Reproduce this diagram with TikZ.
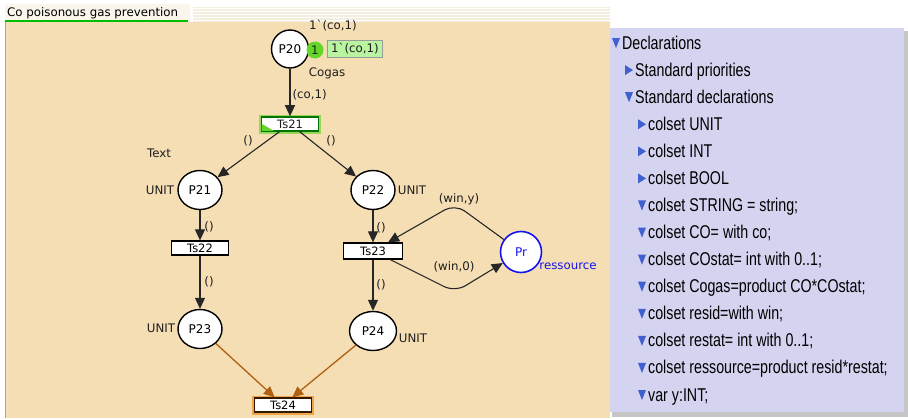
\documentclass[tikz,border=0pt]{standalone}
\usepackage{fontspec}
\setmainfont{DejaVu Sans}
\newfontfamily\declfont[FakeStretch=0.77]{Liberation Sans}
\usetikzlibrary{arrows.meta,shapes.geometric}

\definecolor{wheatbg}{RGB}{245,222,180}
\definecolor{tabbg}{RGB}{250,246,236}
\definecolor{stripebg}{RGB}{244,238,222}
\definecolor{panelbg}{RGB}{212,212,240}
\definecolor{declblue}{RGB}{64,96,208}
\definecolor{tokengreen}{RGB}{100,214,40}
\definecolor{markgreen}{RGB}{185,245,160}
\definecolor{glowgreen}{RGB}{150,215,90}
\definecolor{gloworange}{RGB}{242,165,70}
\definecolor{arcorange}{RGB}{176,96,16}
\definecolor{resblue}{RGB}{20,20,240}
\definecolor{inktext}{RGB}{30,30,30}

\tikzset{
  place/.style={ellipse, draw, line width=1.4pt, fill=white, minimum width=44pt,
    minimum height=39pt, inner sep=0pt, font=\fontsize{12}{13}\selectfont},
  trans/.style={rectangle, draw, line width=1.3pt, fill=white, minimum width=57pt,
    minimum height=14pt, inner sep=0pt, font=\fontsize{11.5}{12}\selectfont},
  lbl/.style={font=\fontsize{11.8}{13}\selectfont, text=inktext, inner sep=0pt},
  arc/.style={->, line width=1.1pt, draw=black!85},
  decl/.style={font=\declfont\fontsize{18.5}{20}\selectfont, anchor=base west,
    inner sep=0pt, text=black}
}

\begin{document}
\begin{tikzpicture}[x=1pt, y=-1pt, >={Triangle[length=11pt,width=10pt]}]

\useasboundingbox (0,0) rectangle (908,418);
\fill[white] (0,0) rectangle (908,418);
\fill[wheatbg] (5,22) rectangle (610,418);
\draw[gray!70] (5.5,22) -- (5.5,418);
\fill[tabbg] (5,4) rectangle (190,22);
\fill[stripebg] (193,7) rectangle (610,22);
\foreach \s in {8,11,...,21} {\draw[white, line width=1pt] (193,\s) -- (610,\s);}
\node[lbl, anchor=west, text=black] (tab) at (7,13) {Co poisonous gas prevention};
\draw[green!75!black, line width=2pt] (5,20.5) -- (188,20.5);

\fill[gray!45] (612,31) rectangle (908,417);
\fill[panelbg] (610,28) rectangle (904,412);
\foreach \lvl/\tri/\txt [count=\i from 0] in {0/1/Declarations, 1/0/Standard priorities,
  1/1/Standard declarations, 2/0/colset UNIT, 2/0/colset INT, 2/0/colset BOOL,
  2/1/colset STRING = string;, 2/1/colset CO= with co;, 2/1/colset COstat= int with 0..1;,
  2/1/colset Cogas=product CO*COstat;, 2/1/colset resid=with win;,
  2/1/colset restat= int with 0..1;, 2/1/colset ressource=product resid*restat;,
  2/1/var y:INT;} {
  \pgfmathsetmacro\by{49+27.08*\i}
  \pgfmathsetmacro\tx{612+13*\lvl}
  \ifnum\tri=1
    \fill[declblue] (\tx,\by-11) -- (\tx+8,\by-11) -- (\tx+4,\by-1) -- cycle;
  \else
    \fill[declblue] (\tx,\by-11) -- (\tx+8,\by-6) -- (\tx,\by-1) -- cycle;
  \fi
  \node[decl] (decl\i) at (\tx+10,\by) {\txt};
}

\node[place, minimum width=37pt, minimum height=38pt] (P20) at (290,49) {P20};
\node[circle, fill=tokengreen, minimum size=17pt, lbl] (tok) at (315,50) {1};
\node[lbl, fill=markgreen, draw=gray!80, minimum width=55pt, minimum height=17pt] (mark) at (355,49) {1\textasciigrave(co,1)};
\node[lbl] (initmark) at (333,26) {1\textasciigrave(co,1)};
\node[lbl] (cogas) at (327,73) {Cogas};

\node[trans, draw=green!45!black, line width=1.6pt, preaction={draw=glowgreen, line width=5pt}] (Ts21) at (290,124) {};
\fill[tokengreen] ([shift={(1,-1)}]Ts21.south west) -- ++(12,0) -- ++(-12,-7) -- cycle;
\node[lbl, font=\fontsize{11.5}{12}\selectfont] (Ts21txt) at (Ts21) {Ts21};

\node[place] (P21) at (200,190) {P21};
\node[place] (P22) at (373,190) {P22};
\node[trans] (Ts22) at (200,248) {Ts22};
\node[trans, minimum width=59pt, minimum height=16pt] (Ts23) at (373,251) {Ts23};
\node[place] (P23) at (200,329) {P23};
\node[place, minimum width=47pt] (P24) at (373,331) {P24};
\node[trans, draw=black!80!orange, line width=1.2pt, preaction={draw=gloworange, line width=5pt}] (Ts24) at (283,405) {Ts24};
\node[circle, draw=resblue, line width=1.6pt, fill=white, minimum size=41pt, inner sep=0pt,
  text=resblue, font=\fontsize{12}{13}\selectfont] (Pr) at (521,252) {Pr};

\node[lbl] (text) at (159,153) {Text};
\node[lbl] (u21) at (160,190) {UNIT};
\node[lbl] (u22) at (412,190) {UNIT};
\node[lbl] (u23) at (161,328) {UNIT};
\node[lbl] (u24) at (413,338) {UNIT};
\node[lbl, text=resblue] (res) at (568,266) {ressource};

\coordinate (wy) at (455,204);
\coordinate (w0) at (455,292);

\draw[arc] (P20) -- (Ts21) node[lbl, pos=0.55, right=2pt] (a20) {(co,1)};
\draw[arc] (Ts21) -- (P21);
\draw[arc] (Ts21) -- (P22);
\draw[arc] (P21) -- (Ts22);
\draw[arc] (P22) -- (Ts23);
\draw[arc] (Ts22) -- (P23);
\draw[arc] (Ts23) -- (P24);
\draw[arc, draw=arcorange, line width=1.3pt] (P23) -- (Ts24);
\draw[arc, draw=arcorange, line width=1.3pt] (P24) -- (Ts24);
\draw[arc, rounded corners=12pt] (Pr) -- (wy) -- (Ts23);
\draw[arc, rounded corners=12pt] (Ts23) -- (w0) -- (Pr);

\node[lbl] (l21a) at (248,141) {()};
\node[lbl] (l21b) at (331,141) {()};
\node[lbl] (l22a) at (209,227) {()};
\node[lbl] (l23a) at (381,228) {()};
\node[lbl] (l22b) at (209,282) {()};
\node[lbl] (l23b) at (381,285) {()};
\node[lbl] (lwy) at (459,199) {(win,y)};
\node[lbl] (lw0) at (454,267) {(win,0)};

\end{tikzpicture}
\end{document}
